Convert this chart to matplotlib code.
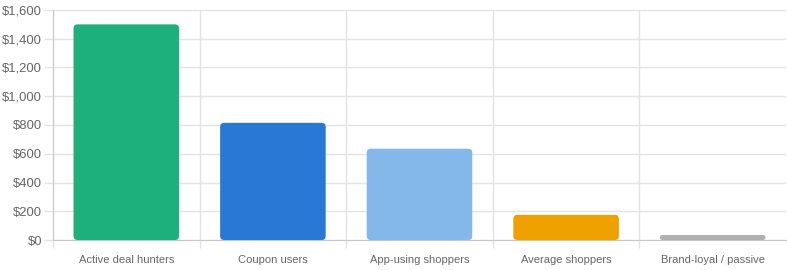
import matplotlib
matplotlib.use("Agg")
import matplotlib.pyplot as plt
from matplotlib.patches import FancyBboxPatch
from matplotlib.ticker import FuncFormatter, MultipleLocator

categories = ["Active deal hunters", "Coupon users", "App-using shoppers",
              "Average shoppers", "Brand-loyal / passive"]
values = [1500, 815, 635, 175, 35]
colors = ["#1DB07D", "#2A78D6", "#85B8EA", "#EFA100", "#B0B0B0"]

plt.rcParams['font.family'] = ['Liberation Sans', 'DejaVu Sans']

W, H = 787, 270
fig = plt.figure(figsize=(W / 100, H / 100), dpi=100)
L, R, T, B = 53, 786, 10, 240
ax = fig.add_axes([L / W, 1 - B / H, (R - L) / W, (B - T) / H])
PT = 0.72  # points per pixel at dpi 100

n = len(categories)
xs = list(range(n))
bars = ax.bar(xs, values, width=0.72, color=colors)
ax.set_xlim(-0.5, n - 0.5)
ax.set_ylim(0, 1600)

# rounded corners
px_x = (R - L) / n          # pixels per x unit
px_y = (B - T) / 1600       # pixels per y unit
aspect = px_x / px_y
for b, c in zip(bars, colors):
    x0, y0, w, h = b.get_x(), b.get_y(), b.get_width(), b.get_height()
    b.remove()
    rs = min(4 / px_x, h / aspect / 2)
    p = FancyBboxPatch((x0, y0), w, h,
                       boxstyle=f"round,pad=0,rounding_size={rs}",
                       mutation_aspect=aspect, facecolor=c, edgecolor="none",
                       zorder=3)
    ax.add_patch(p)

grid_c = "#E3E3E3"
axis_c = "#C8C8C8"
ax.yaxis.set_major_locator(MultipleLocator(200))
ax.yaxis.set_major_formatter(FuncFormatter(lambda v, p: f"${v:,.0f}"))
ax.set_xticks([x - 0.5 for x in range(n)], minor=False)
ax.set_xticklabels([])
ax.set_xticks(xs, minor=True)
ax.set_xticklabels(categories, minor=True)
ax.tick_params(axis="x", which="minor", length=0, pad=15 * PT, labelsize=8.0,
               labelcolor="#666666")
ax.tick_params(axis="x", which="major", length=8 * PT, color=grid_c, width=1)
ax.tick_params(axis="y", length=9 * PT, color=grid_c, width=1, pad=2 * PT,
               labelsize=9.4, labelcolor="#666666")
ax.grid(True, which="major", color=grid_c, linewidth=1, zorder=0)
ax.set_axisbelow(True)
for s in ["top", "right"]:
    ax.spines[s].set_visible(False)
ax.spines["left"].set_color(axis_c)
ax.spines["bottom"].set_color(axis_c)

fig.savefig("out.png", dpi=100)
